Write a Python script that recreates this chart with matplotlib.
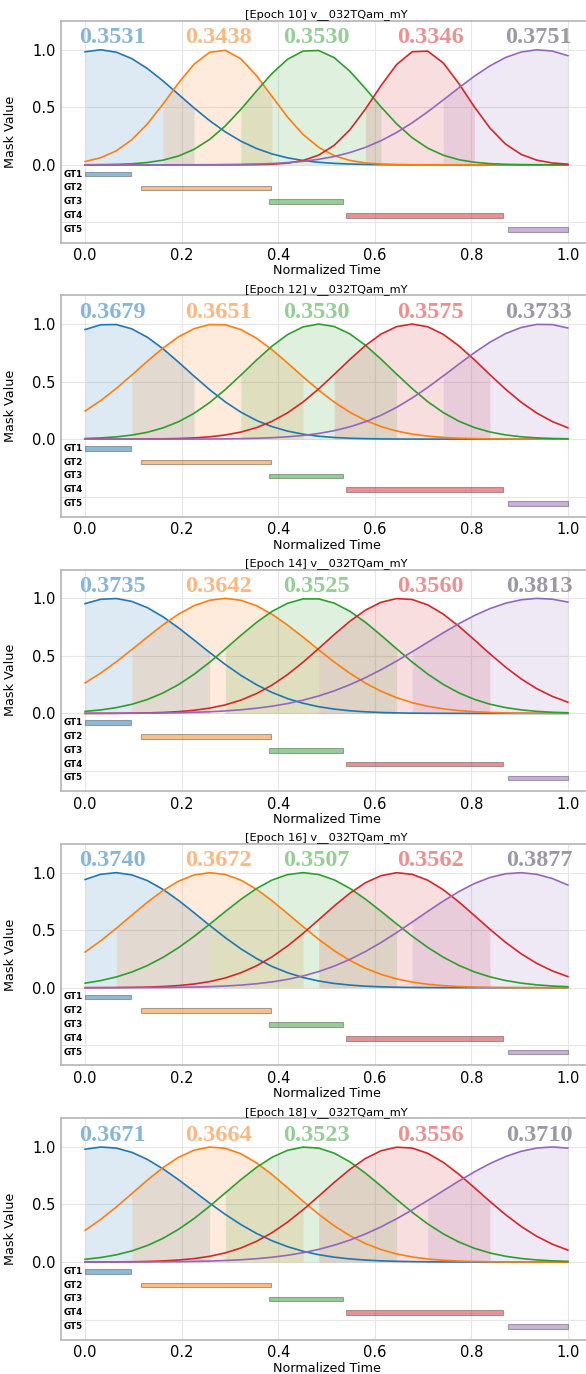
import numpy as np
import matplotlib
matplotlib.use('Agg')
import matplotlib.pyplot as plt

# Gaussian temporal masks per epoch
epochs = [10, 12, 14, 16, 18]
video = 'v__032TQam_mY'
scores = [
    [0.3531, 0.3438, 0.3530, 0.3346, 0.3751],
    [0.3679, 0.3651, 0.3530, 0.3575, 0.3733],
    [0.3735, 0.3642, 0.3525, 0.3560, 0.3813],
    [0.3740, 0.3672, 0.3507, 0.3562, 0.3877],
    [0.3671, 0.3664, 0.3523, 0.3556, 0.3710],
]
centers = [
    [0.031, 0.280, 0.470, 0.695, 0.940],
    [0.050, 0.272, 0.485, 0.677, 0.950],
    [0.055, 0.290, 0.468, 0.655, 0.940],
    [0.062, 0.260, 0.452, 0.650, 0.900],
    [0.038, 0.265, 0.460, 0.655, 0.967],
]
widths = [
    [0.164, 0.105, 0.122, 0.095, 0.185],
    [0.160, 0.162, 0.150, 0.150, 0.190],
    [0.180, 0.178, 0.165, 0.160, 0.235],
    [0.177, 0.170, 0.178, 0.162, 0.210],
    [0.190, 0.165, 0.168, 0.162, 0.230],
]
# shaded span of each mask (normalized time)
fill_lo = [
    [0.000, 0.161, 0.323, 0.581, 0.742],
    [0.000, 0.097, 0.323, 0.516, 0.742],
    [0.000, 0.097, 0.290, 0.484, 0.677],
    [0.000, 0.065, 0.258, 0.484, 0.677],
    [0.000, 0.097, 0.290, 0.484, 0.710],
]
fill_hi = [
    [0.226, 0.387, 0.613, 0.806, 1.000],
    [0.226, 0.452, 0.645, 0.839, 1.000],
    [0.258, 0.484, 0.645, 0.839, 1.000],
    [0.258, 0.452, 0.645, 0.839, 1.000],
    [0.258, 0.452, 0.645, 0.839, 1.000],
]
gt_names = ['GT1', 'GT2', 'GT3', 'GT4', 'GT5']
gt_start = [0.000, 0.115, 0.380, 0.540, 0.875]
gt_end = [0.095, 0.385, 0.535, 0.865, 1.000]
gt_y = [-0.08, -0.20, -0.32, -0.44, -0.56]

colors = ['tab:blue', 'tab:orange', 'tab:green', 'tab:red', 'tab:purple']
score_colors = ['#86b6da', '#fdb882', '#95cf95', '#ec9192', '#9d98a6']
score_x = [0.057, 0.277, 0.480, 0.715, 0.940]

t = np.linspace(0, 1, 32)

fig = plt.figure(figsize=(5.86, 13.74), dpi=100)
W, H = 586.0, 1374.0

for k, ep in enumerate(epochs):
    top = 21 + 274.3 * k
    ax = fig.add_axes([61 / W, 1 - (top + 221.5) / H, 531 / W, 221.5 / H])

    for i in range(5):
        m = np.exp(-0.5 * ((t - centers[k][i]) / widths[k][i]) ** 2)
        sel = (t >= fill_lo[k][i] - 1e-3) & (t <= fill_hi[k][i] + 1e-3)
        ax.fill_between(t, 0, m, where=sel, color=colors[i], alpha=0.15,
                        linewidth=0)
        ax.plot(t, m, color=colors[i], lw=1.2, zorder=3)
        ax.text(score_x[i], 1.055, '%.4f' % scores[k][i],
                color=score_colors[i], fontsize=17.5, fontweight='bold',
                family='Liberation Serif', ha='center', va='baseline')

    for i in range(5):
        ax.barh(gt_y[i], gt_end[i] - gt_start[i], left=gt_start[i],
                height=0.04, color=colors[i], alpha=0.5,
                edgecolor='#555555', linewidth=0.8, zorder=2)
        ax.text(-0.045, gt_y[i], gt_names[i], fontsize=6.3,
                fontweight='bold', ha='left', va='center')

    ax.set_xlim(-0.05, 1.05)
    ax.set_ylim(-0.675, 1.25)
    ax.set_yticks([-0.5, 0.0, 0.5, 1.0])
    ax.set_yticklabels(['', '0.0', '0.5', '1.0'])
    ax.set_xticks([0.0, 0.2, 0.4, 0.6, 0.8, 1.0])
    ax.tick_params(length=0, labelsize=10.5, pad=4)
    ax.grid(True, color='#e6e6e6', lw=0.8)
    ax.set_axisbelow(True)
    for sp in ax.spines.values():
        sp.set_color('#b4b4b4')
        sp.set_linewidth(1.2)

    ax.set_title('[Epoch %d] %s' % (ep, video), fontsize=8.2, pad=2.5)
    ax.set_xlabel('Normalized Time', fontsize=9.2, labelpad=1)
    ax.set_ylabel('Mask Value', fontsize=9.2)
    ax.yaxis.set_label_coords(-0.083, 0.5)

fig.savefig('out.png', dpi=100)
